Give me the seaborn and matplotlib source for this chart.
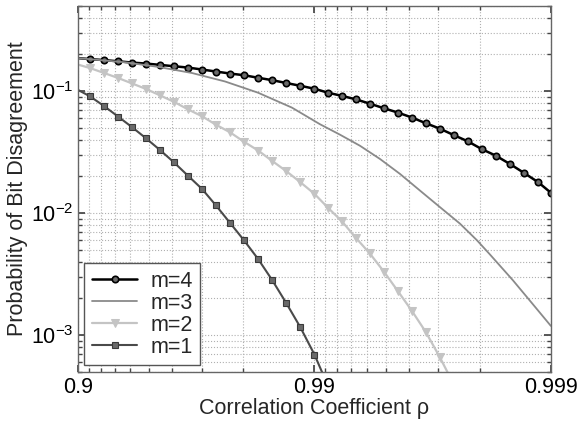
import numpy as np
import pandas as pd
import seaborn as sns
import matplotlib.pyplot as plt
from matplotlib.ticker import FixedLocator, FixedFormatter, LogLocator, NullFormatter

# correlation values where markers sit (first entry rho=0.9 is line start only)
rho_grid = [0.9, 0.9110, 0.9224, 0.9323, 0.9409, 0.9484, 0.9550, 0.9607, 0.9657,
            0.9701, 0.9739, 0.9772, 0.9801, 0.9827, 0.9849, 0.9868, 0.9885, 0.9900,
            0.99123, 0.99235, 0.99332, 0.99417, 0.99492, 0.99556, 0.99613, 0.99662,
            0.99705, 0.99743, 0.99776, 0.99804, 0.99829, 0.99851, 0.99870, 0.99887,
            0.99900]

p_m4 = [0.1866, 0.1832, 0.1798, 0.1758, 0.1716, 0.1684, 0.1643, 0.1601, 0.1562,
        0.1505, 0.1449, 0.1396, 0.1352, 0.1288, 0.1231, 0.1168, 0.1108, 0.1047,
        0.0972, 0.0915, 0.0857, 0.0790, 0.0724, 0.0668, 0.0608, 0.0546, 0.0493,
        0.0436, 0.0387, 0.0335, 0.0296, 0.0253, 0.0214, 0.0179, 0.0147]

p_m2 = [0.1652, 0.1547, 0.1409, 0.1283, 0.1157, 0.1043, 0.0924, 0.0818, 0.0710,
        0.0623, 0.0531, 0.0461, 0.0386, 0.0326, 0.0268, 0.0222, 0.0180, 0.0144,
        0.01108, 0.00857, 0.00627, 0.00467, 0.00331, 0.00230, 0.00158, 0.00106,
        0.000660, 0.000392]

p_m1 = [0.1024, 0.0907, 0.0755, 0.0619, 0.0507, 0.0411, 0.0329, 0.0261, 0.0203,
        0.0158, 0.01157, 0.00836, 0.00602, 0.00420, 0.00283, 0.00185, 0.00117,
        0.000693, 0.000385]

# m=3 drawn as a plain line
rho_m3 = [0.9, 0.9367, 0.9541, 0.96704, 0.97611, 0.98267, 0.98755, 0.99052,
          0.99220, 0.99358, 0.99472, 0.99565, 0.99642, 0.99705, 0.997575,
          0.997945, 0.998189, 0.998552, 0.998809, 0.999]
p_m3 = [0.1866, 0.1725, 0.1582, 0.1409, 0.1201, 0.0972, 0.0733, 0.0536, 0.0440,
        0.0357, 0.0278, 0.0210, 0.01533, 0.01123, 0.00821, 0.00600, 0.00459,
        0.00282, 0.00179, 0.00119]

tick_rho = [0.9, 0.99, 0.999]
tick_labels = ["0.9", "0.99", "0.999"]

sns.set_theme(style="ticks")
plt.rcParams['font.family'] = ['Liberation Sans', 'DejaVu Sans']
plt.rcParams['mathtext.fontset'] = 'custom'
plt.rcParams['mathtext.rm'] = 'Liberation Sans'
plt.rcParams['mathtext.it'] = 'Liberation Sans'

fig = plt.figure(figsize=(5.78, 4.23), dpi=100)
ax = fig.add_axes([0.135, 0.121, 0.818, 0.865])


def series(rho, p):
    return pd.DataFrame({"x": 1 - np.array(rho), "p": p})


d4 = series(rho_grid, p_m4)
d3 = series(rho_m3, p_m3)
d2 = series(rho_grid[:len(p_m2)], p_m2)
d1 = series(rho_grid[:len(p_m1)], p_m1)

sns.lineplot(data=d4, x="x", y="p", ax=ax, sort=False, color="black", lw=1.8,
             marker="o", ms=4.6, mfc="#6a6a6a", mec="black", mew=1.2,
             markevery=slice(1, None), label="m=4")
sns.lineplot(data=d3, x="x", y="p", ax=ax, sort=False, color="#8a8a8a", lw=1.3,
             label="m=3")
sns.lineplot(data=d2, x="x", y="p", ax=ax, sort=False, color="#c4c4c4", lw=1.6,
             marker="v", ms=5.5, mfc="#c4c4c4", mec="#c4c4c4",
             markevery=slice(1, None), label="m=2")
sns.lineplot(data=d1, x="x", y="p", ax=ax, sort=False, color="#4a4a4a", lw=1.5,
             marker="s", ms=4.0, mfc="#6a6a6a", mec="#3a3a3a", mew=0.8,
             markevery=slice(1, None), label="m=1")

ax.set_xscale("log")
ax.set_yscale("log")
ax.set_xlim(0.1, 0.001)
ax.set_ylim(5e-4, 0.5)

ax.xaxis.set_major_locator(FixedLocator([1 - r for r in tick_rho]))
ax.xaxis.set_major_formatter(FixedFormatter(tick_labels))
ax.xaxis.set_minor_locator(LogLocator(base=10, subs=np.arange(2, 10)))
ax.xaxis.set_minor_formatter(NullFormatter())
ax.yaxis.set_major_locator(LogLocator(base=10, numticks=10))
ax.yaxis.set_minor_locator(LogLocator(base=10, subs=np.arange(2, 10), numticks=20))
ax.yaxis.set_minor_formatter(NullFormatter())

ax.grid(True, which="both", ls=":", lw=0.8, color="#b0b0b0")
ax.tick_params(which="both", direction="in", top=True, right=True,
               colors="#444444", labelcolor="black", labelsize=15.5)
ax.tick_params(axis="x", which="major", pad=4)
ax.tick_params(which="major", length=5)
ax.tick_params(which="minor", length=3)
for s in ax.spines.values():
    s.set_color("#666666")
    s.set_linewidth(1.0)

ax.set_xlabel("Correlation Coefficient ρ", fontsize=15.5, labelpad=0)
ax.set_ylabel("Probability of Bit Disagreement", fontsize=15.5, labelpad=2)

leg = ax.legend(loc="lower left", fontsize=15.5, frameon=True, fancybox=False,
                framealpha=1, edgecolor="#555555", handlelength=2.1,
                borderaxespad=0.3, labelspacing=0.05, borderpad=0.35,
                handletextpad=0.6)
leg.get_frame().set_linewidth(1.0)

fig.savefig("out.png", dpi=100)
